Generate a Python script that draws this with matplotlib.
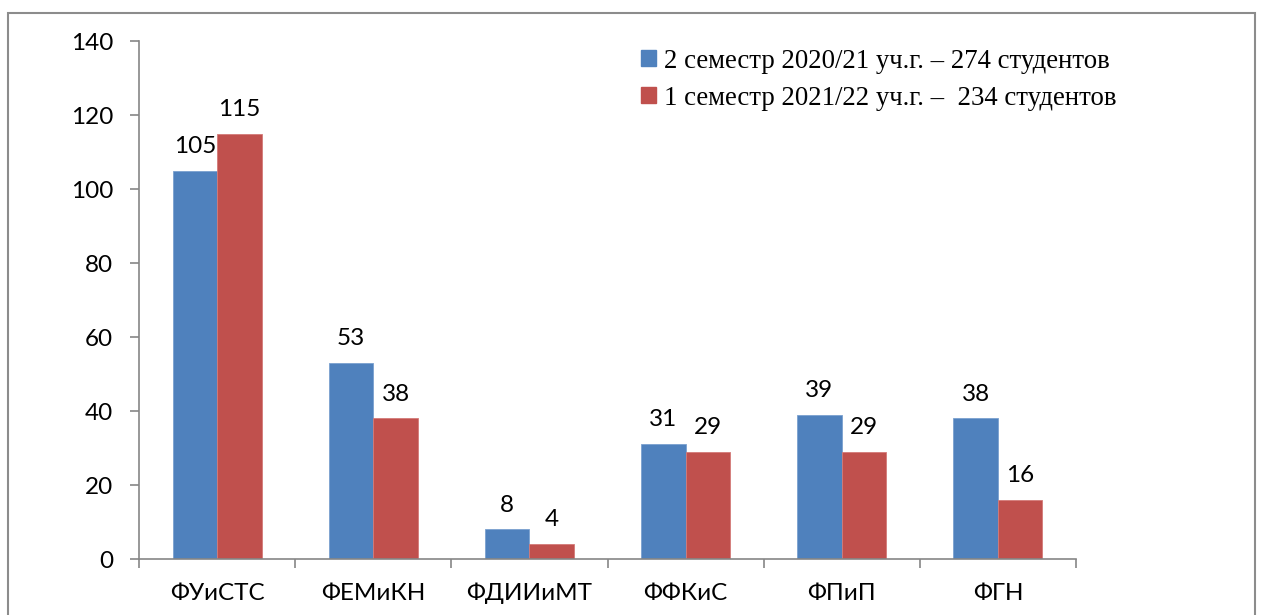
import numpy as np
import matplotlib.pyplot as plt
import matplotlib.patches as mpatches

# факультеты и число студентов по семестрам
faculties = ['ФУиСТС', 'ФЕМиКН', 'ФДИИиМТ', 'ФФКиС', 'ФПиП', 'ФГН']
sem_2020 = [105, 53, 8, 31, 39, 38]
sem_2021 = [115, 38, 4, 29, 29, 16]
labels = ['2 семестр 2020/21 уч.г. – 274 студентов',
          '1 семестр 2021/22 уч.г. –  234 студентов']

blue = '#4f81bd'
red = '#c0504d'
axis_gray = '#868686'

plt.rcParams['font.family'] = ['Lato', 'DejaVu Sans']

fig = plt.figure(figsize=(12.61, 6.15), dpi=100)
ax = fig.add_axes([139 / 1261, 56 / 615, (1076 - 139) / 1261, (559 - 41) / 615])

# рамка вокруг диаграммы
fig.patches.append(mpatches.Rectangle((8 / 1261, -0.05), (1255 - 8) / 1261, 1.05 - 13 / 615,
                                      transform=fig.transFigure, fill=False,
                                      edgecolor='#8c8c8c', linewidth=1.5))

x = np.arange(len(faculties))
w = 0.285
b1 = ax.bar(x - w / 2, sem_2020, w, color=blue, edgecolor='#7aa0cf', linewidth=0.6)
b2 = ax.bar(x + w / 2, sem_2021, w, color=red, edgecolor='#d47a78', linewidth=0.6)

for bars in (b1, b2):
    for r in bars:
        ax.annotate(str(int(r.get_height())), (r.get_x() + r.get_width() / 2, r.get_height()),
                    xytext=(0, 10), textcoords='offset points', ha='center', va='bottom',
                    fontsize=17.5)

ax.set_xlim(-0.5, len(faculties) - 0.5)
ax.set_ylim(0, 140)
ax.set_yticks(range(0, 141, 20))
ax.set_xticks(x)
ax.set_xticklabels(faculties)
ax.set_xticks(np.arange(-0.5, len(faculties), 1), minor=True)
ax.tick_params(axis='x', which='major', length=0, pad=17, labelsize=17.5)
ax.tick_params(axis='x', which='minor', length=6.5, width=1.2, color=axis_gray, direction='out')
ax.tick_params(axis='y', length=6.5, width=1.2, color=axis_gray, pad=12, labelsize=17.5)

for s in ['top', 'right']:
    ax.spines[s].set_visible(False)
for s in ['left', 'bottom']:
    ax.spines[s].set_color(axis_gray)
    ax.spines[s].set_linewidth(1.2)

handles = [mpatches.Patch(color=blue), mpatches.Patch(color=red)]
leg = ax.legend(handles, labels, loc='upper left', bbox_to_anchor=(0.510, 1.032),
                frameon=False, prop={'family': 'Liberation Serif', 'size': 19.3},
                handlelength=0.55, handleheight=0.55, handletextpad=0.3, labelspacing=0.45)

fig.savefig('out.png', dpi=100)
